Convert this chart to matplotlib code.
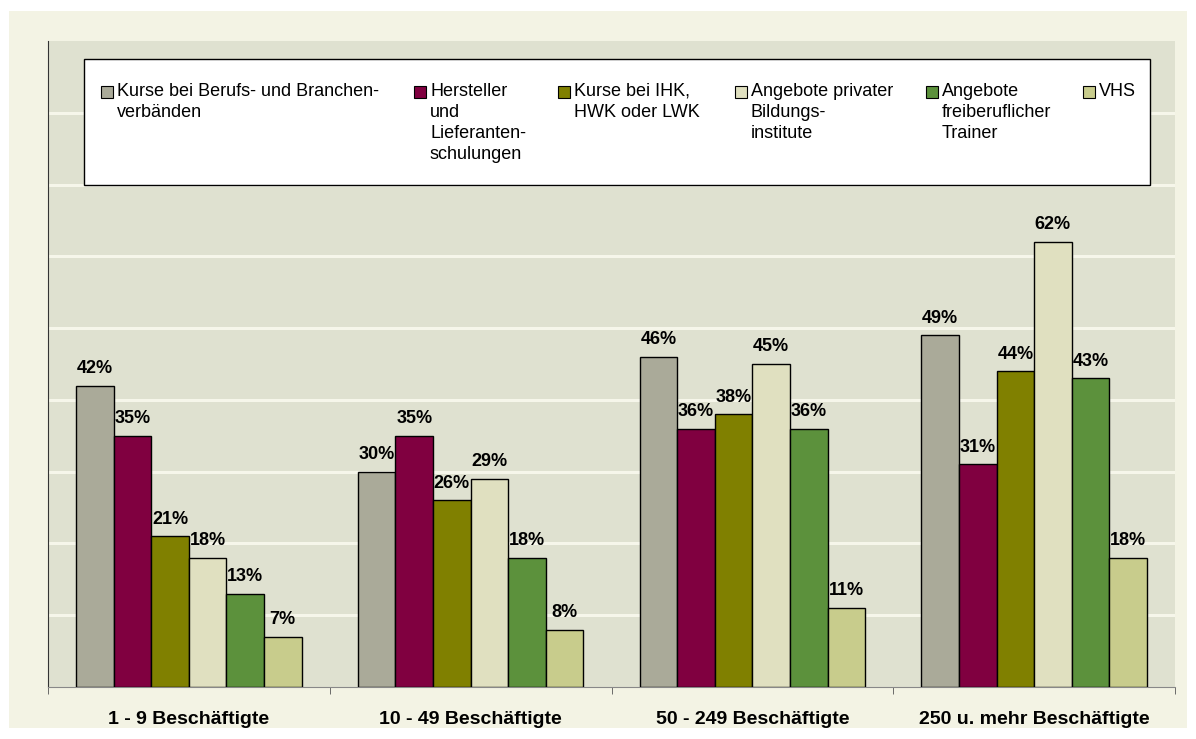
import numpy as np
import matplotlib.pyplot as plt
from matplotlib.patches import Rectangle

plt.rcParams['font.family'] = ['Liberation Sans', 'DejaVu Sans']

# data
categories = ['1 - 9 Beschäftigte', '10 - 49 Beschäftigte',
              '50 - 249 Beschäftigte', '250 u. mehr Beschäftigte']
series_names = ['Kurse bei Berufs- und Branchen-\nverbänden',
                'Hersteller\nund\nLieferanten-\nschulungen',
                'Kurse bei IHK,\nHWK oder LWK',
                'Angebote privater\nBildungs-\ninstitute',
                'Angebote\nfreiberuflicher\nTrainer',
                'VHS']
values = [
    [42, 30, 46, 49],
    [35, 35, 36, 31],
    [21, 26, 38, 44],
    [18, 29, 45, 62],
    [13, 18, 36, 43],
    [7, 8, 11, 18],
]
colors = ['#AAAA99', '#800040', '#808000', '#E0E0C0', '#5C913C', '#C8CC8C']

W, H = 1196, 739
fig = plt.figure(figsize=(W / 100, H / 100), dpi=100)
fig.patch.set_facecolor('white')

# outer beige frame
fig.patches.append(Rectangle((9 / W, 1 - 728 / H), (1187 - 9) / W, (728 - 11) / H,
                             transform=fig.transFigure, facecolor='#F3F3E4',
                             edgecolor='none', zorder=0))

ax = fig.add_axes([48 / W, 1 - 687 / H, (1175 - 48) / W, (687 - 41) / H])
ax.set_facecolor('#DFE1D0')
ax.set_zorder(1)

n = len(values)
x = np.arange(len(categories))
bw = 0.8 / n
for i, (vals, col) in enumerate(zip(values, colors)):
    pos = x - 0.4 + bw * (i + 0.5)
    ax.bar(pos, vals, width=bw, color=col, edgecolor='black',
           linewidth=1, zorder=3)
    for xp, v in zip(pos, vals):
        ax.text(xp, v + 1.2, f'{v}%', ha='center', va='bottom',
                fontsize=13, fontweight='bold', zorder=4)

ax.set_xlim(-0.5, len(categories) - 0.5)
ax.set_ylim(0, 90)
ax.set_yticks(np.arange(10, 90, 10))
ax.set_yticklabels([])
ax.tick_params(axis='y', length=0)
ax.grid(axis='y', color='#F6F6EA', linewidth=2.2, zorder=1)
ax.set_axisbelow(True)

ax.set_xticks(x)
ax.set_xticklabels(categories, fontsize=14, fontweight='bold')
ax.tick_params(axis='x', length=0, pad=17)
ax.set_xticks(np.arange(-0.5, len(categories)), minor=True)
ax.tick_params(axis='x', which='minor', length=5, direction='out', color='#555555')

for s in ['top', 'right']:
    ax.spines[s].set_visible(False)
ax.spines['left'].set_color('#333333')
ax.spines['bottom'].set_color('#888888')

# legend box
fig.patches.append(Rectangle((84 / W, 1 - 185 / H), (1150 - 84) / W, (185 - 59) / H,
                             transform=fig.transFigure, facecolor='white',
                             edgecolor='black', linewidth=1, zorder=5))
patch_x = [101, 414, 558, 735, 926, 1083]
for px, name, col in zip(patch_x, series_names, colors):
    fig.patches.append(Rectangle((px / W, 1 - 98 / H), 12 / W, 12 / H,
                                 transform=fig.transFigure, facecolor=col,
                                 edgecolor='black', linewidth=0.8, zorder=6))
    fig.text((px + 16) / W, 1 - 83 / H, name, fontsize=13, va='top', ha='left',
             linespacing=1.32, zorder=6)

plt.savefig('out.png', dpi=100)
plt.close()
